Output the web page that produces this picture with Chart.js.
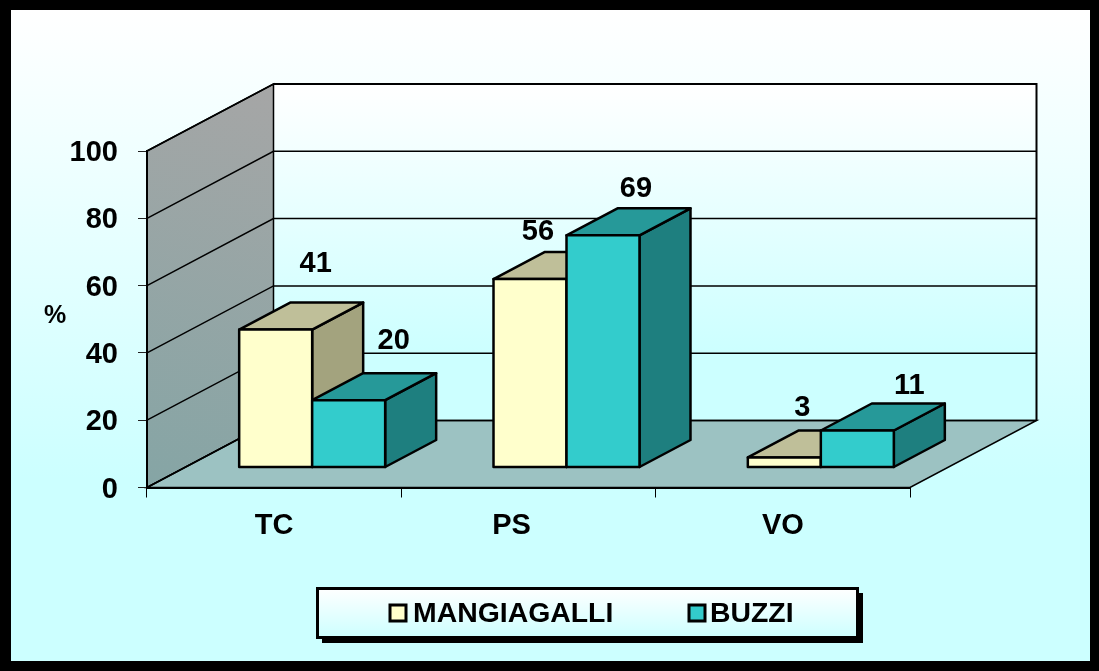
<!DOCTYPE html>
<html>
<head>
<meta charset="utf-8">
<title>TC PS VO</title>
<style>
  html, body { margin: 0; padding: 0; background: #000; }
  canvas { display: block; }
</style>
<script src="https://cdn.jsdelivr.net/npm/chart.js@4/dist/chart.umd.min.js"></script>
</head>
<body>
<canvas id="grafico" width="1099" height="671"></canvas>
<script>
const categorie = ["TC", "PS", "VO"];
const mangiagalli = [41, 56, 3];
const buzzi = [20, 69, 11];
const tickMax = 100;
const tickStep = 20;

const FONT = '"Liberation Sans", Arial, sans-serif';

// profondita' del finto 3D, in pixel
const muro = { dx: 126.5, dy: 67 };
const barraPos = { dx: 38, dy: 20 };
const barraProf = { dx: 51, dy: 27 };

const colori = [
  { front: "#FFFFCC", top: "#BFBF99", side: "#A3A37E" },
  { front: "#33CCCC", top: "#269999", side: "#1E7F7F" },
];

// le etichette nell'originale sono spostate a mano: [dx dal centro barra, dy sopra la barra]
const spostaValori = [
  [[40, 66], [8, 47], [18, 49]],
  [[45, 59], [33, 46], [52, 44]],
];
const spostaCategorie = [0, -17, 0];

function poligono(ctx, punti, fill) {
  ctx.beginPath();
  punti.forEach((p, i) => (i ? ctx.lineTo(p[0], p[1]) : ctx.moveTo(p[0], p[1])));
  ctx.closePath();
  if (fill) {
    ctx.fillStyle = fill;
    ctx.fill();
  }
  ctx.stroke();
}

function disegnaBarre(chart, i) {
  const ctx = chart.ctx;
  const meta = chart.getDatasetMeta(i);
  const c = colori[i];
  const d = barraProf;
  ctx.save();
  ctx.translate(barraPos.dx, -barraPos.dy);
  ctx.strokeStyle = "#000";
  ctx.lineWidth = 2.5;
  ctx.lineJoin = "round";
  meta.data.forEach((bar) => {
    const l = bar.x - bar.width / 2;
    const r = bar.x + bar.width / 2;
    poligono(ctx, [[r, bar.y], [r + d.dx, bar.y - d.dy], [r + d.dx, bar.base - d.dy], [r, bar.base]], c.side);
    poligono(ctx, [[l, bar.y], [l + d.dx, bar.y - d.dy], [r + d.dx, bar.y - d.dy], [r, bar.y]], c.top);
  });
  meta.controller.draw();
  meta.data.forEach((bar) => {
    ctx.strokeRect(bar.x - bar.width / 2, bar.y, bar.width, bar.base - bar.y);
  });
  ctx.restore();
}

const sfondo3d = {
  id: "sfondo3d",
  afterLayout(chart) {
    // i numeri dell'asse stanno 2px piu' in basso rispetto al baseline middle
    chart.scales.y.getLabelItems().forEach((it) => { it.options.translation[1] += 2; });
  },
  beforeDraw(chart) {
    const { ctx, chartArea: a, scales: { y } } = chart;
    const top = y.getPixelForValue(tickMax);
    const bot = y.getPixelForValue(0);
    ctx.save();

    // cornice e sfondo
    ctx.fillStyle = "#000";
    ctx.fillRect(0, 0, chart.width, chart.height);
    let g = ctx.createLinearGradient(0, 10, 0, 661);
    g.addColorStop(0, "#FFFFFF");
    g.addColorStop(0.72, "#CCFFFF");
    g.addColorStop(1, "#CCFFFF");
    ctx.fillStyle = g;
    ctx.fillRect(11, 10, 1079, 651);

    // parete di fondo
    g = ctx.createLinearGradient(0, top - muro.dy, 0, bot - muro.dy);
    g.addColorStop(0, "#FFFFFF");
    g.addColorStop(0.8, "#CCFFFF");
    g.addColorStop(1, "#CCFFFF");
    ctx.fillStyle = g;
    ctx.fillRect(a.left + muro.dx, top - muro.dy, a.right - a.left, bot - top);

    // parete laterale
    g = ctx.createLinearGradient(a.left + muro.dx, top - muro.dy, a.left, bot);
    g.addColorStop(0, "#A6A6A6");
    g.addColorStop(1, "#85A5A5");
    ctx.strokeStyle = "#000";
    ctx.lineWidth = 1.5;
    poligono(ctx, [
      [a.left, top], [a.left + muro.dx, top - muro.dy],
      [a.left + muro.dx, bot - muro.dy], [a.left, bot],
    ], g);

    // pavimento
    poligono(ctx, [
      [a.left, bot], [a.right, bot],
      [a.right + muro.dx, bot - muro.dy], [a.left + muro.dx, bot - muro.dy],
    ], "#9CC2C2");

    // griglia su parete laterale e di fondo
    y.ticks.forEach((t) => {
      const py = y.getPixelForValue(t.value);
      ctx.beginPath();
      ctx.moveTo(a.left, py);
      ctx.lineTo(a.left + muro.dx, py - muro.dy);
      ctx.lineTo(a.right + muro.dx, py - muro.dy);
      ctx.stroke();
    });

    // bordo alto e destro della parete di fondo
    ctx.lineWidth = 2;
    ctx.beginPath();
    ctx.moveTo(a.left + muro.dx, top - muro.dy);
    ctx.lineTo(a.right + muro.dx, top - muro.dy);
    ctx.lineTo(a.right + muro.dx, bot - muro.dy);
    ctx.stroke();
    ctx.restore();
  },
  beforeDatasetsDraw(chart) {
    // prima MANGIAGALLI, poi BUZZI che le sta sopra
    chart.data.datasets.forEach((ds, i) => disegnaBarre(chart, i));
    return false;
  },
  afterDraw(chart) {
    const { ctx, scales: { x } } = chart;
    ctx.save();
    ctx.fillStyle = "#000";
    ctx.textAlign = "center";
    ctx.textBaseline = "middle";
    ctx.font = "bold 29px " + FONT;

    // valori sopra le barre
    chart.data.datasets.forEach((ds, i) => {
      chart.getDatasetMeta(i).data.forEach((bar, j) => {
        const s = spostaValori[i][j];
        ctx.fillText(String(ds.data[j]), bar.x + barraPos.dx + s[0], bar.y - barraPos.dy - s[1]);
      });
    });

    // categorie
    categorie.forEach((c, i) => {
      ctx.fillText(c, x.getPixelForValue(i) + spostaCategorie[i], 526);
    });

    ctx.font = "bold 25px " + FONT;
    ctx.fillText("%", 55, 316);

    // legenda
    ctx.fillStyle = "#000";
    ctx.fillRect(322, 593, 541, 50);
    const g = ctx.createLinearGradient(0, 588, 0, 638);
    g.addColorStop(0, "#FFFFFF");
    g.addColorStop(1, "#CCFFFF");
    ctx.fillStyle = g;
    ctx.fillRect(317, 588, 541, 50);
    ctx.strokeStyle = "#000";
    ctx.lineWidth = 3;
    ctx.strokeRect(317.5, 588.5, 540, 49);

    const posLegenda = [[390, 413], [689, 710]];
    ctx.textAlign = "left";
    ctx.font = "bold 28.4px " + FONT;
    chart.data.datasets.forEach((ds, i) => {
      ctx.fillStyle = ds.backgroundColor;
      ctx.fillRect(posLegenda[i][0], 605, 16, 16);
      ctx.strokeRect(posLegenda[i][0], 605, 16, 16);
      ctx.fillStyle = "#000";
      ctx.fillText(ds.label, posLegenda[i][1], 614);
    });
    ctx.restore();
  },
};

new Chart(document.getElementById("grafico"), {
  type: "bar",
  data: {
    labels: categorie,
    datasets: [
      { label: "MANGIAGALLI", data: mangiagalli, backgroundColor: colori[0].front, clip: false },
      { label: "BUZZI", data: buzzi, backgroundColor: colori[1].front, clip: false },
    ],
  },
  options: {
    responsive: false,
    animation: false,
    events: [],
    categoryPercentage: 0.574,
    barPercentage: 1,
    layout: { padding: { top: 151, right: 189, left: 0, bottom: 0 } },
    plugins: {
      legend: { display: false },
      title: { display: false },
      tooltip: { enabled: false },
    },
    scales: {
      x: {
        grid: { drawOnChartArea: false, drawTicks: true, tickLength: 10, color: "#000", lineWidth: 1 },
        border: { display: true, color: "#000", width: 2 },
        ticks: { display: false },
        afterFit(s) { s.height = 183.5; },
      },
      y: {
        min: 0,
        max: tickMax,
        ticks: {
          stepSize: tickStep,
          padding: 20,
          color: "#000",
          font: { family: FONT, size: 29, weight: "bold" },
        },
        grid: { drawOnChartArea: false, drawTicks: true, tickLength: 9, color: "#222", lineWidth: 1 },
        border: { display: true, color: "#000", width: 2 },
        afterFit(s) { s.width = 147; },
      },
    },
  },
  plugins: [sfondo3d],
});
</script>
</body>
</html>
